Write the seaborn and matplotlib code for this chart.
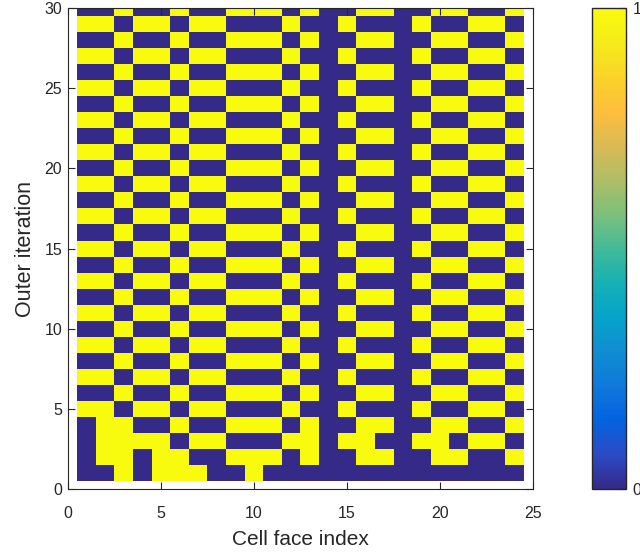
import numpy as np
import pandas as pd
import seaborn as sns
import matplotlib.pyplot as plt
from matplotlib.colors import LinearSegmentedColormap

# switch flag per cell face, one string per outer iteration (iteration 30 first)
flags = [
    "001001001110100110011001",  # 30
    "110110110001001000100110",  # 29
    "001001001110100110011001",  # 28
    "110110110001001000100110",  # 27
    "001001001110100110011001",  # 26
    "110110110001001000100110",  # 25
    "001001001110100110011001",  # 24
    "110110110001001000100110",  # 23
    "001001001110100110011001",  # 22
    "110110110001001000100110",  # 21
    "001001001110100110011001",  # 20
    "110110110001001000100110",  # 19
    "001001001110100110011001",  # 18
    "110110110001001000100110",  # 17
    "001001001110100110011001",  # 16
    "110110110001001000100110",  # 15
    "001001001110100110011001",  # 14
    "110110110001001000100110",  # 13
    "001001001110100110011001",  # 12
    "110110110001001000100110",  # 11
    "001001001110100110011001",  # 10
    "110110110001001000100110",  # 9
    "001001001110100110011001",  # 8
    "110110110001001000100110",  # 7
    "001001001110100110011001",  # 6
    "110110110001001000100110",  # 5
    "011001001110100110011001",  # 4
    "011110110001101100110110",  # 3
    "011011001110100110011001",  # 2
    "001011100100000000000000",  # 1
]
iterations = list(range(30, 0, -1))
faces = list(range(1, 25))
xtick_vals = [0, 5, 10, 15, 20, 25]
ytick_vals = [0, 5, 10, 15, 20, 25, 30]

# matlab parula, sampled
parula = LinearSegmentedColormap.from_list("parula", [
    (0.2081, 0.1663, 0.5292), (0.1707, 0.2919, 0.7792), (0.0117, 0.3875, 0.8820),
    (0.0629, 0.4737, 0.8554), (0.0641, 0.5570, 0.8240), (0.0231, 0.6418, 0.7913),
    (0.0843, 0.6928, 0.7062), (0.2586, 0.7317, 0.5954), (0.4871, 0.7491, 0.4840),
    (0.6834, 0.7435, 0.4044), (0.8507, 0.7299, 0.3360), (0.9938, 0.7455, 0.2403),
    (0.9789, 0.8271, 0.1633), (0.9598, 0.9218, 0.0948), (0.9763, 0.9831, 0.0538),
])

df = pd.DataFrame([[int(c) for c in row] for row in flags], index=iterations, columns=faces)
df = df.iloc[::-1]  # iteration 1 first so it sits at the bottom

plt.rcParams["font.family"] = ["Liberation Sans", "DejaVu Sans"]
dark = "#262626"

fig = plt.figure(figsize=(6.4, 5.56), dpi=100)
ax = fig.add_axes([0.106, 0.1205, 0.727, 0.865])
cax = fig.add_axes([0.925, 0.1205, 0.053, 0.865])

sns.heatmap(df, ax=ax, cbar_ax=cax, cmap=parula, vmin=0, vmax=1,
            xticklabels=False, yticklabels=False, cbar_kws={"ticks": [0, 1]})

# heatmap cells sit on [i, i+1]; shift so face k is centred on k
ax.set_xlim(-0.5, 24.5)
ax.set_ylim(-0.5, 29.5)
ax.set_xticks([v - 0.5 for v in xtick_vals], [str(v) for v in xtick_vals])
ax.set_yticks([v - 0.5 for v in ytick_vals], [str(v) for v in ytick_vals])
ax.tick_params(direction="in", top=True, right=True, length=5, width=0.8,
               colors=dark, labelsize=11.5)
ax.tick_params(axis="x", pad=12)
ax.tick_params(axis="y", pad=4)
for sp in ax.spines.values():
    sp.set_visible(True)
    sp.set_color(dark)
    sp.set_linewidth(0.8)
ax.set_xlabel("Cell face index", fontsize=15, color=dark, labelpad=7)
ax.set_ylabel("Outer iteration", fontsize=15.5, color=dark, labelpad=6)

cb = ax.collections[0].colorbar
cb.outline.set_linewidth(1.0)
cb.outline.set_edgecolor(dark)
cax.tick_params(direction="in", length=4, width=0.8, colors=dark, labelsize=11.5, pad=5)

plt.savefig("out.png", dpi=100)
